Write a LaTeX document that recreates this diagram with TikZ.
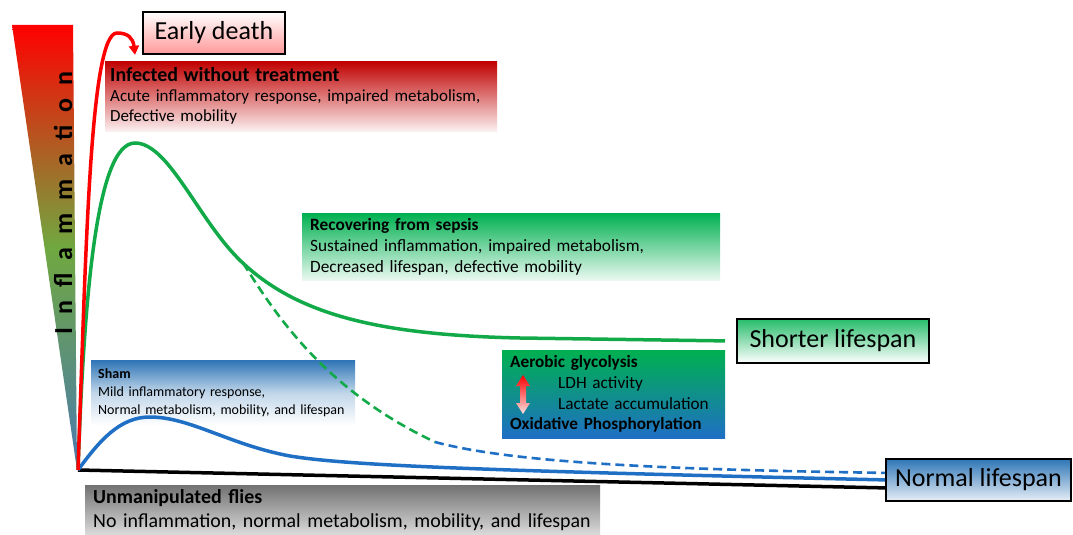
\documentclass[tikz,border=0pt]{standalone}
\usepackage{fontspec}
\setmainfont{Carlito}
\usetikzlibrary{positioning,arrows.meta}
\usepackage{xcolor}
\definecolor{infred}{HTML}{C00000}
\definecolor{recgreen}{HTML}{00B050}
\definecolor{shamblue}{HTML}{2E75B6}
\definecolor{lineblue}{HTML}{1F6FC5}
\definecolor{linegreen}{HTML}{12AA48}
\definecolor{flygrey}{HTML}{727272}
\definecolor{wedgegreen}{HTML}{70A840}
\definecolor{wedgeblue}{HTML}{4A7AB0}

\tikzset{
  infobox/.style={anchor=north west, inner xsep=8pt, inner ysep=0pt, align=left},
  endbox/.style={anchor=north west, draw=black, line width=1.8pt, inner sep=0pt,
    font=\fontsize{26}{28}\selectfont},
  curve/.style={line width=3.5pt},
  dashcurve/.style={line width=2.6pt, dash pattern=on 9pt off 5pt}
}

\begin{document}
\begin{tikzpicture}[x=1pt,y=-1pt,>={Triangle[length=9pt,width=10pt]}]
\useasboundingbox (0,0) rectangle (1073,535);

% inflammation wedge
\shade[top color=red, bottom color=wedgeblue, middle color=wedgegreen]
  (12,25) -- (73,25) -- (77,470) -- cycle;
\node[rotate=90, font=\fontsize{26}{26}\selectfont\bfseries\addfontfeature{LetterSpace=50}] (inflam) at (63,203) {Inflammation};

% boxes
\node[infobox, inner xsep=5pt, text width=382, minimum height=70, top color=infred, bottom color=infred!6,
  font=\fontsize{17}{20}\selectfont] (infected) at (105,61)
  {{\fontsize{20}{20}\selectfont\bfseries Infected without treatment}\\Acute inflammatory response, impaired metabolism,\\Defective mobility};
\node[infobox, text width=402, minimum height=67, top color=recgreen, bottom color=recgreen!8,
  font=\fontsize{17.3}{21}\selectfont] (recover) at (302,213)
  {\textbf{Recovering from sepsis}\\Sustained inflammation, impaired metabolism,\\Decreased lifespan, defective mobility};
\node[infobox, inner xsep=7pt, text width=250, minimum height=65, top color=shamblue, bottom color=white, middle color=shamblue!30,
  font=\fontsize{14}{18}\selectfont] (sham) at (91,360)
  {\textbf{Sham}\\Mild inflammatory response,\\Normal metabolism, mobility, and lifespan};
\node[infobox, text width=207, minimum height=88, top color=recgreen, bottom color=lineblue,
  font=\fontsize{17.2}{20.7}\selectfont] (aero) at (502,350)
  {\textbf{Aerobic glycolysis}\\\hspace*{48pt}LDH activity\\\hspace*{48pt}Lactate accumulation\\\textbf{Oxidative Phosphorylation}};
\node[infobox, text width=499, minimum height=50, top color=flygrey, bottom color=flygrey!25,
  font=\fontsize{19.9}{24}\selectfont] (flies) at (85,485)
  {\textbf{Unmanipulated flies}\\No inflammation, normal metabolism, mobility, and lifespan};

\node[endbox, minimum width=142, minimum height=42, top color=white, bottom color=red!40] (death) at (142,11) {Early death};
\node[endbox, minimum width=192, minimum height=44, top color=recgreen!85, bottom color=white] (shorter) at (736,318) {Shorter lifespan};
\node[endbox, minimum width=185, minimum height=42, top color=shamblue, bottom color=shamblue!12] (normal) at (885,458) {Normal lifespan};

% up/down arrow
\shade[top color=red, bottom color=red!12]
  (523,375) -- (530,386) -- (526,386) -- (526,403) -- (530,403) -- (523,414)
  -- (516,403) -- (520,403) -- (520,386) -- (516,386) -- cycle;

% curves
\coordinate (o) at (78,470);
\draw[curve, black] (o) -- ([yshift=-8pt]normal.west);
\draw[curve, lineblue] (o) .. controls (100,440) and (120,417) .. (150,417)
  .. controls (190,417) and (230,445) .. (290,456)
  .. controls (350,466) and (500,471) .. (normal.west);
\draw[dashcurve, linegreen] (243,263) .. controls (272,308) and (320,388) .. (435,442) coordinate (swap);
\draw[dashcurve, lineblue] (swap) .. controls (520,465) and (700,470) .. ([yshift=7pt]normal.west);
\draw[curve, linegreen] (o) .. controls (84,300) and (96,143) .. (135,143)
  .. controls (170,143) and (200,225) .. (245,265)
  .. controls (300,315) and (380,335) .. (520,338) -- ([xshift=-11pt]shorter.west);
\draw[curve, red, ->] (o) .. controls (86,250) and (90,33) .. (117,33)
  .. controls (128,33) and (133,38) .. ([xshift=-7pt]death.south west);
\end{tikzpicture}
\end{document}
